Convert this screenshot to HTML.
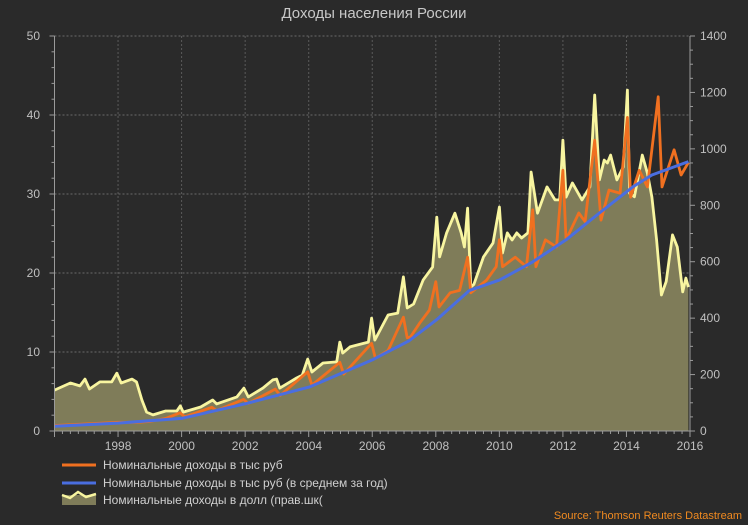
<!DOCTYPE html>
<html><head><meta charset="utf-8">
<style>
html,body{margin:0;padding:0;background:#2a2a2a;}
svg{display:block;font-family:"Liberation Sans",sans-serif;}
</style></head>
<body>
<svg id="chart" width="748" height="525" viewBox="0 0 748 525" xmlns="http://www.w3.org/2000/svg">
<rect width="748" height="525" fill="#2a2a2a"/>
<text x="374" y="18" text-anchor="middle" fill="#c8c8c8" font-size="15">Доходы населения России</text>
<g id="grid"></g>
<g id="series"></g>
<g id="axes"></g>
<g font-size="12" fill="#d0d0d0">
  <line x1="62" y1="465" x2="96" y2="465" stroke="#f07020" stroke-width="3"/>
  <text x="103" y="469">Номинальные доходы в тыс руб</text>
  <line x1="62" y1="483" x2="96" y2="483" stroke="#4a6ee0" stroke-width="3"/>
  <text x="103" y="487">Номинальные доходы в тыс руб (в среднем за год)</text>
  <rect x="62" y="495" width="34" height="10" fill="#7f7c59"/>
  <polyline points="62,495 70,498 78,492 86,497 96,494" fill="none" stroke="#f8f5a0" stroke-width="2.5"/>
  <text x="103" y="504">Номинальные доходы в долл (прав.шк(</text>
</g>
<text x="742" y="519" text-anchor="end" fill="#f08a20" font-size="11">Source: Thomson Reuters Datastream</text>
</svg>
<script>
// ---- data ----
const xTickLabels = ["1998","2000","2002","2004","2006","2008","2010","2012","2014","2016"];
const leftTickLabels = ["0","10","20","30","40","50"];
const rightTickLabels = ["0","200","400","600","800","1000","1200","1400"];

const usdTimes = [1996.0,1996.5,1996.8,1996.96,1997.1,1997.43,1997.8,1997.96,1998.1,1998.44,1998.58,1998.75,1998.9,1999.1,1999.5,1999.85,1999.96,2000.05,2000.6,2000.98,2001.1,2001.74,2001.96,2002.1,2002.56,2002.87,2002.99,2003.09,2003.62,2003.8,2003.97,2004.1,2004.45,2004.88,2004.98,2005.07,2005.3,2005.77,2005.88,2005.98,2006.08,2006.5,2006.8,2006.98,2007.1,2007.3,2007.6,2007.9,2008.03,2008.12,2008.34,2008.6,2008.8,2008.9,2009.0,2009.1,2009.2,2009.5,2009.8,2010.0,2010.1,2010.25,2010.4,2010.55,2010.7,2010.9,2011.0,2011.2,2011.5,2011.75,2011.9,2012.0,2012.1,2012.3,2012.6,2012.85,2013.0,2013.15,2013.3,2013.4,2013.5,2013.7,2013.9,2014.03,2014.1,2014.25,2014.5,2014.66,2014.8,2014.95,2015.1,2015.25,2015.45,2015.6,2015.77,2015.87,2015.95];
const usdValues = [145,170,160,184,149,174,174,205,170,184,174,110,67,57,71,71,89,67,85,110,96,121,152,121,152,181,184,152,188,198,255,209,241,245,315,276,298,312,315,400,322,411,418,546,436,450,535,581,758,617,702,772,702,652,790,510,520,617,666,794,631,702,677,702,684,702,918,772,865,819,819,1031,829,879,819,865,1191,890,960,950,978,890,936,1208,843,830,978,914,829,677,482,530,695,652,493,542,510];

const rubTimes = [1996.0,1997.0,1998.0,1998.6,1999.0,1999.5,1999.95,2000.1,2000.95,2001.1,2001.95,2002.1,2002.95,2003.1,2003.97,2004.1,2004.98,2005.1,2005.98,2006.1,2006.5,2006.98,2007.1,2007.2,2007.5,2007.8,2008.0,2008.1,2008.45,2008.75,2009.0,2009.1,2009.6,2009.9,2010.0,2010.1,2010.5,2010.85,2011.05,2011.15,2011.45,2011.8,2012.0,2012.1,2012.5,2012.7,2013.0,2013.2,2013.45,2013.8,2014.03,2014.13,2014.4,2014.66,2015.0,2015.12,2015.5,2015.72,2015.95];
const rubValues = [0.7,0.9,1.1,1.1,1.2,1.6,2.3,1.8,3.0,2.6,4.0,3.5,5.3,4.5,7.5,5.8,8.7,7.2,11.1,9.2,10.2,14.4,11.8,11.9,13.7,15.3,18.9,15.7,17.5,17.8,22.0,17.5,19.1,20.8,24.2,20.8,22.0,20.8,28.0,20.8,24.2,23.3,33.0,24.2,27.6,26.5,36.8,26.7,30.5,30.1,39.7,29.6,33.0,30.9,42.3,30.9,35.6,32.4,34.0];

const avgTimes = [1996.0,1998.0,2000.0,2002.05,2004.04,2006.0,2007.15,2008.03,2009.06,2010.0,2011.05,2012.1,2013.15,2014.2,2014.8,2015.95];
const avgValues = [0.6,1.0,1.6,3.5,5.6,9.0,11.4,14.1,17.8,19.1,21.4,24.2,27.6,30.9,32.4,34.1];

// ---- scales ----
const X0=54.5, X1=690, Y0=431, Y1=36;
function xs(t){return X0+(t-1996)*(X1-X0)/20;}
function yl(v){return Y0-v*(Y0-Y1)/50;}
function yr(v){return Y0-v*(Y0-Y1)/1400;}
const NS="http://www.w3.org/2000/svg";
function mk(tag,attrs,parent){const e=document.createElementNS(NS,tag);for(const k in attrs)e.setAttribute(k,attrs[k]);parent.appendChild(e);return e;}

const grid=document.getElementById('grid');
const axes=document.getElementById('axes');
const series=document.getElementById('series');

leftTickLabels.forEach((lab,i)=>{
  const y=yl(+lab);
  if(+lab>0){const g=mk('line',{x1:X0,x2:X1,y1:y,y2:y,stroke:'#6a6a6a','stroke-dasharray':'2,2','stroke-width':1},grid);
  
  }
  const t=mk('text',{x:40,y:y+4,'text-anchor':'end',fill:'#c0c0c0','font-size':12},axes);
  t.textContent=lab;
  
  
});
xTickLabels.forEach(lab=>{
  const x=xs(+lab);
  if(+lab<2016){const g=mk('line',{x1:x,x2:x,y1:Y1,y2:Y0,stroke:'#5a5a5a','stroke-dasharray':'2,2','stroke-width':1},grid);
  
  }
  const t=mk('text',{x:x,y:450,'text-anchor':'middle',fill:'#c0c0c0','font-size':12},axes);
  t.textContent=lab;
  
  
});
rightTickLabels.forEach(lab=>{
  const y=yr(+lab);
  const t=mk('text',{x:700,y:y+4,'text-anchor':'start',fill:'#c0c0c0','font-size':12},axes);
  t.textContent=lab;
  
  
});
let a=mk('line',{x1:X0,x2:X0,y1:Y1,y2:Y0,stroke:'#9a9a9a'},axes);


a=mk('line',{x1:X1,x2:X1,y1:Y1,y2:Y0,stroke:'#9a9a9a'},axes);


a=mk('line',{x1:X0,x2:X1,y1:Y0,y2:Y0,stroke:'#9a9a9a'},axes);


for(let v=0;v<=50;v+=2){const y=yl(v);mk('line',{x1:X0-(v%10?3:5),x2:X0,y1:y,y2:y,stroke:'#9a9a9a'},axes);}
for(let v=0;v<=1400;v+=50){const y=yr(v);mk('line',{x1:X1,x2:X1+(v%200?3:5),y1:y,y2:y,stroke:'#9a9a9a'},axes);}
for(let q=0;q<=80;q++){const x=X0+q*(X1-X0)/80;mk('line',{x1:x,x2:x,y1:Y0,y2:Y0+(q%8?3:6),stroke:'#9a9a9a'},axes);}

let usdPts=usdTimes.map((t,i)=>xs(t).toFixed(1)+','+yr(usdValues[i]).toFixed(1));
const area=mk('polygon',{points:xs(usdTimes[0])+','+Y0+' '+usdPts.join(' ')+' '+xs(usdTimes[usdTimes.length-1])+','+Y0,fill:'#7f7c59'},series);


const usd=mk('polyline',{points:usdPts.join(' '),fill:'none',stroke:'#f8f5a0','stroke-width':2.8,'stroke-linejoin':'round'},series);


const rub=mk('polyline',{points:rubTimes.map((t,i)=>xs(t).toFixed(1)+','+yl(rubValues[i]).toFixed(1)).join(' '),fill:'none',stroke:'#f07020','stroke-width':2.8,'stroke-linejoin':'round'},series);


const avg=mk('polyline',{points:avgTimes.map((t,i)=>xs(t).toFixed(1)+','+yl(avgValues[i]).toFixed(1)).join(' '),fill:'none',stroke:'#4a6ee0','stroke-width':3,'stroke-linejoin':'round'},series);


</script>
</body></html>
